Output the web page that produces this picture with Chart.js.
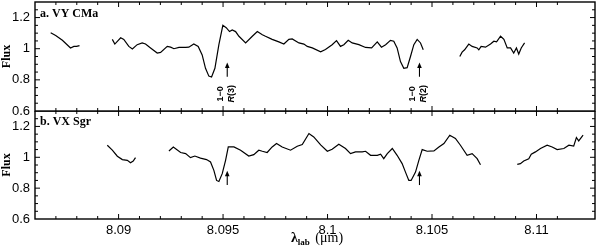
<!DOCTYPE html>
<html>
<head>
<meta charset="utf-8">
<script src="https://cdn.jsdelivr.net/npm/chart.js@4"></script>
<style>
  html, body { margin: 0; padding: 0; background: #fff; }
  #wrap { position: relative; width: 600px; height: 249px; overflow: hidden; }
  canvas { position: absolute; left: 0; }
  #cTop { top: 0; }
  #cBot { top: 111px; }
</style>
</head>
<body>
<div id="wrap">
  <canvas id="cTop" width="600" height="125"></canvas>
  <canvas id="cBot" width="600" height="138"></canvas>
</div>
<script>
// ---- Data: panel a (VY CMa) ----
const vyWave1 = [8.08675, 8.08699, 8.08731, 8.08770, 8.08786, 8.08799, 8.08813];
const vyFlux1 = [1.102, 1.085, 1.054, 1.005, 1.015, 1.015, 1.02];
const vyWave2 = [8.08970, 8.08982, 8.09010, 8.09025, 8.09049, 8.09066, 8.09089, 8.09113, 8.09129, 8.09153,
  8.09185, 8.09201, 8.09233, 8.09249, 8.09265, 8.09289, 8.09321, 8.09336, 8.09360, 8.09381,
  8.09400, 8.09416, 8.09432, 8.09445, 8.09461, 8.09480, 8.09499, 8.09515, 8.09531, 8.09544,
  8.09560, 8.09576, 8.09608, 8.09640, 8.09664, 8.09688, 8.09703, 8.09735, 8.09767, 8.09791,
  8.09815, 8.09831, 8.09863, 8.09887, 8.09903, 8.09927, 8.09967, 8.09990, 8.10022, 8.10043,
  8.10062, 8.10078, 8.10099, 8.10118, 8.10150, 8.10182, 8.10211, 8.10238, 8.10258, 8.10278,
  8.10301, 8.10317, 8.10333, 8.10349, 8.10365, 8.10381, 8.10397, 8.10413, 8.10429, 8.10445, 8.10458];
const vyFlux2 = [1.06, 1.03, 1.07, 1.06, 1.015, 0.998, 1.026, 1.037, 1.03, 1.005,
  0.972, 0.976, 1.015, 1.01, 1.0, 1.008, 1.008, 1.01, 1.03, 1.015,
  0.96, 0.874, 0.824, 0.818, 0.874, 1.026, 1.15, 1.135, 1.11, 1.12,
  1.11, 1.08, 1.037, 1.08, 1.11, 1.09, 1.08, 1.06, 1.044, 1.03,
  1.06, 1.063, 1.037, 1.03, 1.015, 1.005, 0.98, 0.995, 1.026, 1.052,
  1.015, 1.026, 1.054, 1.037, 1.026, 1.008, 1.005, 1.044, 1.01, 1.026,
  1.054, 1.048, 1.005, 0.917, 0.874, 0.878, 0.95, 1.026, 1.06, 1.037, 0.993];
const vyWave3 = [8.10633, 8.10644, 8.10656, 8.10676, 8.10692, 8.10716, 8.10724, 8.10735, 8.10756, 8.10780,
  8.10796, 8.10809, 8.10828, 8.10844, 8.10860, 8.10876, 8.10891, 8.10904, 8.10915, 8.10927, 8.10943];
const vyFlux3 = [0.95, 0.978, 0.993, 1.03, 1.015, 1.005, 0.993, 1.015, 1.01, 1.03,
  1.048, 1.044, 1.08, 1.06, 1.005, 1.005, 0.972, 1.005, 0.966, 1.005, 1.037];

// ---- Data: panel b (VX Sgr) ----
const vxWave1 = [8.08946, 8.08970, 8.08994, 8.09018, 8.09042, 8.09057, 8.09070, 8.09081];
const vxFlux1 = [1.078, 1.046, 1.007, 0.985, 0.98, 0.965, 0.976, 0.998];
const vxWave2 = [8.09241, 8.09262, 8.09297, 8.09321, 8.09344, 8.09365, 8.09392, 8.09421, 8.09440, 8.09456,
  8.09469, 8.09480, 8.09496, 8.09512, 8.09525, 8.09552, 8.09584, 8.09623, 8.09647, 8.09671,
  8.09688, 8.09711, 8.09735, 8.09756, 8.09783, 8.09823, 8.09855, 8.09879, 8.09911, 8.09934,
  8.09967, 8.09999, 8.10022, 8.10054, 8.10086, 8.10110, 8.10134, 8.10166, 8.10182, 8.10206,
  8.10238, 8.10254, 8.10269, 8.10286, 8.10310, 8.10333, 8.10357, 8.10373, 8.10389, 8.10400,
  8.10421, 8.10437, 8.10453, 8.10477, 8.10509, 8.10533, 8.10557, 8.10585, 8.10612, 8.10636,
  8.10668, 8.10692, 8.10716, 8.10732];
const vxFlux2 = [1.041, 1.067, 1.031, 1.024, 0.998, 1.008, 0.995, 0.985, 0.97, 0.915,
  0.85, 0.843, 0.894, 0.98, 1.067, 1.067, 1.046, 1.008, 1.017, 1.046,
  1.039, 1.031, 1.067, 1.089, 1.067, 1.046, 1.072, 1.083, 1.154, 1.132,
  1.08, 1.039, 1.052, 1.085, 1.057, 1.024, 1.035, 1.035, 1.039, 1.013,
  1.013, 1.02, 0.991, 1.024, 1.057, 1.013, 0.959, 0.904, 0.85, 0.85,
  0.904, 0.98, 1.05, 1.039, 1.041, 1.067, 1.089, 1.143, 1.122, 1.078,
  1.013, 1.024, 0.991, 0.952];
const vxWave3 = [8.10908, 8.10923, 8.10939, 8.10963, 8.10975, 8.10995, 8.11019, 8.11051, 8.11075, 8.11099,
  8.11131, 8.11155, 8.11178, 8.11191, 8.11202, 8.11223];
const vxFlux3 = [0.954, 0.959, 0.976, 0.991, 1.02, 1.035, 1.057, 1.078, 1.067, 1.05,
  1.057, 1.078, 1.072, 1.128, 1.106, 1.143];

// ---- Line markers ----
const lineWaves = [8.0952, 8.1044];
const lineTransitions = ['1\u22120', '1\u22120'];
const lineBranchLetter = ['R', 'R'];
const lineBranchNum = ['(3)', '(2)'];
const arrowTailFlux = 0.82;
const arrowHeadFlux = 0.912;
const labelFlux = 0.71;

// ---- Axes ----
const xMin = 8.086, xMax = 8.1128, xMinorStep = 0.001, xMajorStep = 0.005;
const yMin = 0.6, yMax = 1.3, yMinorStep = 0.05, yMajorStep = 0.2;
const panelNames = ['a. VY CMa', 'b. VX Sgr'];

function pts(w, f) { return w.map((v, i) => ({ x: v, y: f[i] })); }
function isMult(v, step) { const r = v / step; return Math.abs(r - Math.round(r)) < 1e-4; }
function fmt(v, d) { return String(+v.toFixed(d)); }

const SANS = "'Liberation Sans', Arial, sans-serif";
const SERIF = "'Liberation Serif', 'Times New Roman', serif";

function ds(w, f) {
  return { data: pts(w, f), showLine: true, borderColor: '#000', borderWidth: 1.2,
    pointRadius: 0, tension: 0, fill: false };
}

const framePlugin = {
  id: 'frame',
  afterDraw(chart) {
    const o = chart.options.plugins.frame;
    const { ctx, chartArea: a, scales: { x, y } } = chart;
    ctx.save();
    ctx.strokeStyle = '#000';
    ctx.lineWidth = 1.4;
    ctx.strokeRect(a.left, a.top, a.right - a.left, a.bottom - a.top);
    ctx.lineWidth = 1;
    ctx.beginPath();
    x.ticks.forEach(t => {
      const px = x.getPixelForValue(t.value);
      if (px < a.left + 1 || px > a.right - 1) return;
      const len = isMult(t.value, xMajorStep) ? 5 : 3;
      ctx.moveTo(px, a.top); ctx.lineTo(px, a.top + len);
      ctx.moveTo(px, a.bottom); ctx.lineTo(px, a.bottom - len);
    });
    y.ticks.forEach(t => {
      const py = y.getPixelForValue(t.value);
      if (py < a.top + 1 || py > a.bottom - 1) return;
      const len = isMult(t.value, yMajorStep) ? 5 : 3;
      ctx.moveTo(a.left, py); ctx.lineTo(a.left + len, py);
      ctx.moveTo(a.right, py); ctx.lineTo(a.right - len, py);
    });
    ctx.stroke();

    // panel label
    ctx.fillStyle = '#000';
    ctx.font = "bold 12px " + SERIF;
    ctx.textAlign = 'left';
    ctx.textBaseline = 'alphabetic';
    ctx.fillText(o.name, a.left + 5, a.top + o.nameDy);

    // arrows
    ctx.lineWidth = 1.1;
    lineWaves.forEach((w, i) => {
      const px = x.getPixelForValue(w);
      const yt = y.getPixelForValue(arrowTailFlux);
      const yh = y.getPixelForValue(arrowHeadFlux);
      ctx.beginPath();
      ctx.moveTo(px, yt); ctx.lineTo(px, yh + 4);
      ctx.stroke();
      ctx.beginPath();
      ctx.moveTo(px, yh); ctx.lineTo(px - 2.3, yh + 5.5); ctx.lineTo(px + 2.3, yh + 5.5);
      ctx.closePath(); ctx.fill();
      if (o.labels) {
        const ly = y.getPixelForValue(labelFlux);
        ctx.save();
        ctx.translate(px - 6.5, ly);
        ctx.rotate(-Math.PI / 2);
        ctx.font = "bold 9px " + SANS;
        ctx.textAlign = 'center'; ctx.textBaseline = 'middle';
        ctx.fillText(lineTransitions[i], 0, 0);
        ctx.restore();
        ctx.save();
        ctx.translate(px + 4, ly);
        ctx.rotate(-Math.PI / 2);
        ctx.textBaseline = 'middle'; ctx.textAlign = 'left';
        ctx.font = "italic bold 9px " + SANS;
        const w1 = ctx.measureText(lineBranchLetter[i]).width;
        ctx.font = "bold 9px " + SANS;
        const w2 = ctx.measureText(lineBranchNum[i]).width;
        const start = -(w1 + w2) / 2;
        ctx.font = "italic bold 9px " + SANS;
        ctx.fillText(lineBranchLetter[i], start, 0);
        ctx.font = "bold 9px " + SANS;
        ctx.fillText(lineBranchNum[i], start + w1, 0);
        ctx.restore();
      }
    });

    // x axis title
    if (o.xTitle) {
      const cx = (a.left + a.right) / 2 + 2;
      const by = a.bottom + 23;
      ctx.textAlign = 'left'; ctx.textBaseline = 'alphabetic';
      const f1 = "bold 14px " + SERIF, f2 = "bold 9px " + SERIF, f3 = "14px " + SERIF;
      ctx.font = f1; const wl = ctx.measureText('\u03bb').width;
      ctx.font = f2; const ws = ctx.measureText('lab').width;
      ctx.font = f3; const wu = ctx.measureText(' (\u03bcm)').width;
      let sx = cx - (wl + ws + 2 + wu) / 2;
      ctx.font = f1; ctx.fillText('\u03bb', sx, by); sx += wl;
      ctx.font = f2; ctx.fillText('lab', sx, by + 3); sx += ws + 2;
      ctx.font = f3; ctx.fillText(' (\u03bcm)', sx, by);
    }
    ctx.restore();
  }
};

function makeChart(id, datasets, opts) {
  return new Chart(document.getElementById(id), {
    type: 'scatter',
    data: { datasets },
    plugins: [framePlugin],
    options: {
      responsive: false,
      animation: false,
      events: [],
      layout: { padding: { top: opts.padTop, bottom: opts.padBottom, left: 0, right: 5 } },
      plugins: {
        legend: { display: false },
        tooltip: { enabled: false },
        frame: { name: opts.name, nameDy: opts.nameDy, labels: opts.labels, xTitle: opts.xLabels }
      },
      scales: {
        x: {
          type: 'linear', min: xMin, max: xMax,
          grid: { display: false, drawTicks: false },
          border: { display: false },
          ticks: {
            display: opts.xLabels, stepSize: xMinorStep, autoSkip: false, maxRotation: 0,
            padding: 4, color: '#000', font: { family: SANS, size: 13 },
            callback: v => isMult(v, xMajorStep) ? fmt(v, 3) : ''
          },
          afterFit: s => { s.height = opts.xLabels ? 30 : 0; s.paddingLeft = 0; s.paddingRight = 0; }
        },
        y: {
          type: 'linear', min: yMin, max: yMax,
          grid: { display: false, drawTicks: false },
          border: { display: false },
          ticks: {
            stepSize: yMinorStep, autoSkip: false, padding: 5, color: '#000',
            font: { family: SANS, size: 13 },
            callback: v => isMult(v, yMajorStep) ? fmt(v, 2) : ''
          },
          title: { display: true, text: 'Flux', color: '#000', padding: 0,
            font: { family: SERIF, size: 12, weight: 'bold' } },
          afterFit: s => { s.width = 35; s.paddingTop = 0; s.paddingBottom = 0; }
        }
      }
    }
  });
}

makeChart('cTop', [ds(vyWave1, vyFlux1), ds(vyWave2, vyFlux2), ds(vyWave3, vyFlux3)],
  { padTop: 2, padBottom: 14, name: panelNames[0], nameDy: 14.5, labels: true, xLabels: false });
makeChart('cBot', [ds(vxWave1, vxFlux1), ds(vxWave2, vxFlux2), ds(vxWave3, vxFlux3)],
  { padTop: 0, padBottom: 0, name: panelNames[1], nameDy: 13.5, labels: false, xLabels: true });
</script>
</body>
</html>
